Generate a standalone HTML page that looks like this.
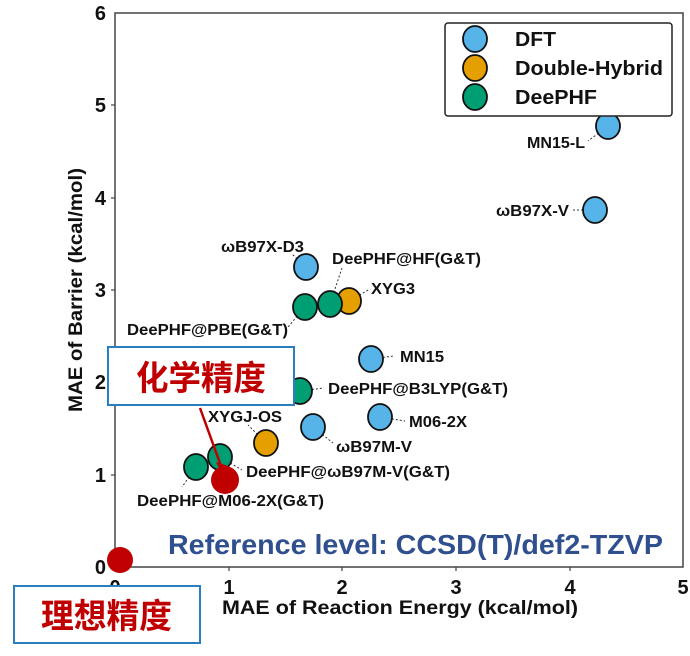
<!DOCTYPE html>
<html><head><meta charset="utf-8"><style>
body{margin:0;background:#fff;}
svg{display:block;font-family:"Liberation Sans",Arial,sans-serif;}
</style></head><body>
<svg width="690" height="656" viewBox="0 0 690 656" xmlns="http://www.w3.org/2000/svg">
<rect width="690" height="656" fill="#fff"/>
<rect x="115" y="13" width="568" height="554" fill="none" stroke="#444" stroke-width="1.5"/>
<g font-size="20" font-weight="bold" fill="#111" text-anchor="end">
<text x="106" y="574">0</text><text x="106" y="482">1</text><text x="106" y="389">2</text>
<text x="106" y="297">3</text><text x="106" y="205">4</text><text x="106" y="112">5</text><text x="106" y="20">6</text>
</g>
<g stroke="#444" stroke-width="1.2">
<line x1="111" y1="475" x2="115" y2="475"/><line x1="111" y1="382" x2="115" y2="382"/><line x1="111" y1="290" x2="115" y2="290"/><line x1="111" y1="198" x2="115" y2="198"/><line x1="111" y1="105" x2="115" y2="105"/>
<line x1="229" y1="567" x2="229" y2="571"/><line x1="342" y1="567" x2="342" y2="571"/><line x1="456" y1="567" x2="456" y2="571"/><line x1="570" y1="567" x2="570" y2="571"/>
</g>
<g font-size="20" font-weight="bold" fill="#111" text-anchor="middle">
<text x="115" y="594">0</text><text x="229" y="594">1</text><text x="342" y="594">2</text><text x="456" y="594">3</text><text x="570" y="594">4</text><text x="683" y="594">5</text>
</g>
<text x="222" y="614" font-size="19" font-weight="bold" fill="#111" textLength="356" lengthAdjust="spacingAndGlyphs">MAE of Reaction Energy (kcal/mol)</text>
<text transform="translate(82,290) rotate(-90)" font-size="19" font-weight="bold" text-anchor="middle" fill="#111" textLength="244" lengthAdjust="spacingAndGlyphs">MAE of Barrier (kcal/mol)</text>

<g stroke="#333" stroke-width="1" stroke-dasharray="2,2" fill="none">
<line x1="608" y1="126" x2="588" y2="141"/>
<line x1="595" y1="210" x2="572" y2="210"/>
<line x1="306" y1="267" x2="292" y2="254"/>
<line x1="330" y1="304" x2="342" y2="268"/>
<line x1="349" y1="301" x2="370" y2="289"/>
<line x1="305" y1="307" x2="288" y2="327"/>
<line x1="371" y1="359" x2="394" y2="356"/>
<line x1="300" y1="391" x2="324" y2="388"/>
<line x1="380" y1="417" x2="405" y2="421"/>
<line x1="313" y1="427" x2="333" y2="443"/>
<line x1="266" y1="443" x2="248" y2="425"/>
<line x1="220" y1="457" x2="242" y2="470"/>
<line x1="196" y1="467" x2="182" y2="487"/>
</g>
<g stroke="#111" stroke-width="1.8">
<ellipse cx="608" cy="126" rx="12" ry="13" fill="#56b4e9"/>
<ellipse cx="595" cy="210" rx="12" ry="13" fill="#56b4e9"/>
<ellipse cx="306" cy="267" rx="12" ry="13" fill="#56b4e9"/>
<ellipse cx="349" cy="301" rx="12" ry="13" fill="#e69f00"/>
<ellipse cx="305" cy="307" rx="12" ry="13" fill="#009e73"/>
<ellipse cx="330" cy="304" rx="12" ry="13" fill="#009e73"/>
<ellipse cx="371" cy="359" rx="12" ry="13" fill="#56b4e9"/>
<ellipse cx="300" cy="391" rx="12" ry="13" fill="#009e73"/>
<ellipse cx="380" cy="417" rx="12" ry="13" fill="#56b4e9"/>
<ellipse cx="313" cy="427" rx="12" ry="13" fill="#56b4e9"/>
<ellipse cx="266" cy="443" rx="12" ry="13" fill="#e69f00"/>
<ellipse cx="220" cy="457" rx="12" ry="13" fill="#009e73"/>
<ellipse cx="196" cy="467" rx="12" ry="13" fill="#009e73"/>
</g>
<g font-size="16" font-weight="bold" fill="#111" lengthAdjust="spacingAndGlyphs">
<text x="527" y="148" textLength="58" lengthAdjust="spacingAndGlyphs">MN15-L</text>
<text x="496" y="216" textLength="73" lengthAdjust="spacingAndGlyphs">ωB97X-V</text>
<text x="221" y="252" textLength="83" lengthAdjust="spacingAndGlyphs">ωB97X-D3</text>
<text x="332" y="264" textLength="149" lengthAdjust="spacingAndGlyphs">DeePHF@HF(G&amp;T)</text>
<text x="371" y="294" textLength="44" lengthAdjust="spacingAndGlyphs">XYG3</text>
<text x="127" y="335" textLength="161" lengthAdjust="spacingAndGlyphs">DeePHF@PBE(G&amp;T)</text>
<text x="400" y="362" textLength="44" lengthAdjust="spacingAndGlyphs">MN15</text>
<text x="328" y="394" textLength="180" lengthAdjust="spacingAndGlyphs">DeePHF@B3LYP(G&amp;T)</text>
<text x="409" y="427" textLength="58" lengthAdjust="spacingAndGlyphs">M06-2X</text>
<text x="336" y="452" textLength="76" lengthAdjust="spacingAndGlyphs">ωB97M-V</text>
<text x="208" y="422" textLength="74" lengthAdjust="spacingAndGlyphs">XYGJ-OS</text>
<text x="246" y="477" textLength="204" lengthAdjust="spacingAndGlyphs">DeePHF@ωB97M-V(G&amp;T)</text>
<text x="137" y="506" textLength="187" lengthAdjust="spacingAndGlyphs">DeePHF@M06-2X(G&amp;T)</text>
</g>
<line x1="200" y1="408" x2="221" y2="466" stroke="#c00000" stroke-width="2.5"/>
<polygon points="216,462 228,466 223,476" fill="#c00000"/>
<ellipse cx="225" cy="480" rx="14" ry="14" fill="#c00000"/>
<ellipse cx="120" cy="560" rx="13" ry="13" fill="#c00000"/>

<rect x="445" y="23" width="227" height="93" rx="3" fill="#fff" stroke="#222" stroke-width="1.5"/>
<g stroke="#111" stroke-width="1.8">
<ellipse cx="475" cy="39" rx="12" ry="13" fill="#56b4e9"/>
<ellipse cx="475" cy="68" rx="12" ry="13" fill="#e69f00"/>
<ellipse cx="475" cy="97" rx="12" ry="13" fill="#009e73"/>
</g>
<g font-size="20" font-weight="bold" fill="#111">
<text x="515" y="46" textLength="41" lengthAdjust="spacingAndGlyphs">DFT</text>
<text x="515" y="75" textLength="148" lengthAdjust="spacingAndGlyphs">Double-Hybrid</text>
<text x="515" y="104" textLength="82" lengthAdjust="spacingAndGlyphs">DeePHF</text>
</g>

<rect x="108" y="347" width="186" height="58" fill="#fff" stroke="#2a7fc1" stroke-width="2"/>
<text x="136" y="390" font-size="34" font-weight="bold" fill="#c00000" font-family="'Noto Sans CJK SC',sans-serif" textLength="130" lengthAdjust="spacingAndGlyphs">化学精度</text>
<rect x="14" y="586" width="186" height="57" fill="#fff" stroke="#2a7fc1" stroke-width="2"/>
<text x="41" y="628" font-size="34" font-weight="bold" fill="#c00000" font-family="'Noto Sans CJK SC',sans-serif" textLength="131" lengthAdjust="spacingAndGlyphs">理想精度</text>
<text x="168" y="554" font-size="28" font-weight="bold" fill="#2f4f8f" textLength="495" lengthAdjust="spacingAndGlyphs">Reference level: CCSD(T)/def2-TZVP</text>
</svg>
</body></html>
